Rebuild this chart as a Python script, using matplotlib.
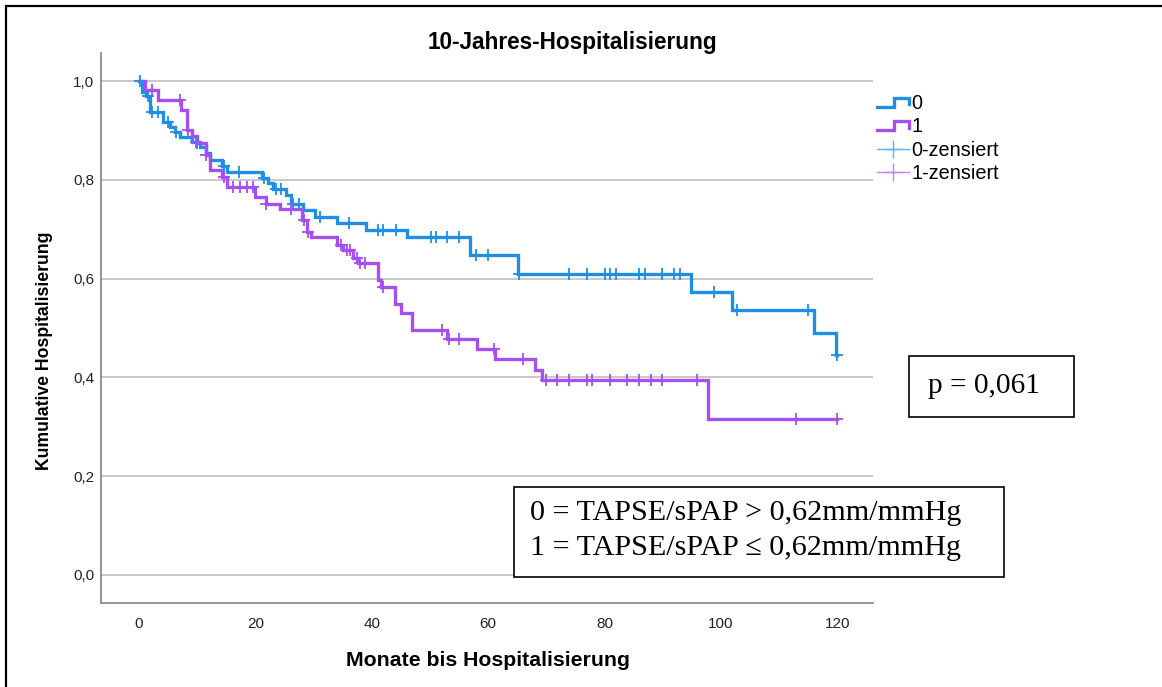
import numpy as np
import matplotlib
matplotlib.use('Agg')
import matplotlib.pyplot as plt
from matplotlib.lines import Line2D
from matplotlib.patches import Rectangle
from matplotlib.legend_handler import HandlerBase

plt.rcParams['font.family'] = ['Liberation Sans', 'DejaVu Sans']

# Group 0 (TAPSE/sPAP > 0,62): event times (months) and survival after each step
t0 = [0, 0.5, 1.3, 2.0, 4.1, 5.3, 6.2, 7.0, 9.1, 10.5, 11.5, 12.2, 14.2, 15.1,
      21.2, 22.2, 23.1, 25.3, 26.2, 28.2, 30.2, 34.1, 39.1, 46.0, 56.9, 65.1,
      94.8, 101.8, 115.9, 119.8]
s0 = [1.0, 0.978, 0.970, 0.938, 0.918, 0.908, 0.897, 0.886, 0.877, 0.866, 0.854,
      0.840, 0.828, 0.815, 0.803, 0.793, 0.781, 0.769, 0.752, 0.739, 0.725, 0.713,
      0.698, 0.684, 0.648, 0.609, 0.573, 0.536, 0.490, 0.445]
cens0 = [0.2, 1.5, 2.2, 3.3, 5.0, 6.3, 9.9, 14.6, 17.2, 21.5, 23.6, 24.5, 26.5,
         27.5, 31.1, 36.1, 41.1, 42.0, 44.1, 50.2, 51.0, 53.0, 55.0, 57.9, 59.9,
         65.3, 73.9, 76.9, 80.0, 80.9, 82.0, 85.9, 86.9, 89.9, 91.9, 92.9, 98.8,
         102.8, 114.9, 120.0]

# Group 1 (TAPSE/sPAP <= 0,62)
t1 = [0, 1.0, 3.3, 7.3, 8.3, 9.1, 10.0, 11.5, 12.2, 14.2, 15.1, 19.9, 21.8, 24.2,
      28.0, 28.8, 29.5, 34.1, 35.0, 36.8, 37.6, 41.0, 41.6, 44.0, 45.0, 47.0,
      52.9, 58.0, 61.2, 68.0, 69.2, 97.8]
s1 = [1.0, 0.982, 0.962, 0.941, 0.901, 0.889, 0.874, 0.850, 0.820, 0.806, 0.786,
      0.766, 0.752, 0.742, 0.719, 0.695, 0.684, 0.668, 0.658, 0.641, 0.631, 0.597,
      0.584, 0.549, 0.531, 0.496, 0.478, 0.457, 0.437, 0.415, 0.395, 0.316]
cens1 = [2.2, 7.0, 8.5, 10.0, 11.6, 14.6, 16.2, 17.4, 18.5, 19.6, 21.9, 26.2, 28.3,
         29.1, 34.8, 35.7, 36.2, 37.4, 38.0, 38.8, 42.0, 52.0, 53.3, 55.0, 61.0,
         66.0, 69.9, 71.8, 73.9, 76.9, 77.9, 80.9, 83.9, 85.9, 87.9, 89.9, 95.8,
         112.8, 120.0]

end_time = 120
xticks = [0, 20, 40, 60, 80, 100, 120]
yticks = [0.0, 0.2, 0.4, 0.6, 0.8, 1.0]
legend_labels = ['0', '1', '0-zensiert', '1-zensiert']

blue = '#1f8fe6'
purple = '#a64ff0'
blue_light = '#5cb2ee'
purple_light = '#c184f5'


def value_at(t, s, c):
    idx = np.searchsorted(t, c, side='right') - 1
    return np.asarray(s)[idx]


class StepHandler(HandlerBase):
    # little step glyph like the SPSS legend
    def create_artists(self, legend, orig_handle, xdescent, ydescent,
                       width, height, fontsize, trans):
        x = np.array([0, 0.55, 0.55, 1, 1]) * width - xdescent
        y = np.array([0.15, 0.15, 0.8, 0.8, 0.35]) * height - ydescent
        ln = Line2D(x, y, color=orig_handle.get_color(),
                    lw=orig_handle.get_linewidth(), transform=trans,
                    solid_joinstyle='miter')
        return [ln]


fig = plt.figure(figsize=(11.62, 6.87), dpi=100)
ax = fig.add_axes([101 / 1162, 1 - 603 / 687, 772 / 1162, 550 / 687])

lines = []
for t, s, c, col in [(t0, s0, cens0, blue), (t1, s1, cens1, purple)]:
    tt = list(t) + [end_time]
    ss = list(s) + [s[-1]]
    ln, = ax.step(tt, ss, where='post', color=col, lw=2.4,
                  solid_joinstyle='miter', zorder=3)
    ax.plot(c, value_at(t, s, c), ls='none', marker='+', ms=8, mew=1.3,
            color=col, zorder=4)
    lines.append(ln)

ax.set_xlim(-6.5, 126.1)
ax.set_ylim(-0.057, 1.057)
ax.set_xticks(xticks)
ax.set_yticks(yticks)
ax.set_yticklabels([f'{v:.1f}'.replace('.', ',') for v in yticks])
ax.tick_params(length=0, labelsize=11, colors='#222222')
ax.tick_params(axis='x', pad=10)
ax.tick_params(axis='y', pad=5)
ax.yaxis.grid(True, color='#c8c8c8', lw=1.4)
ax.set_axisbelow(True)
for side in ['top', 'right']:
    ax.spines[side].set_visible(False)
for side in ['left', 'bottom']:
    ax.spines[side].set_color('#8c8c8c')
    ax.spines[side].set_linewidth(1.3)

# legend
h_cens0 = Line2D([], [], color=blue_light, lw=1.0, marker='+', ms=13, mew=1.0)
h_cens1 = Line2D([], [], color=purple_light, lw=1.0, marker='+', ms=13, mew=1.0)
fig.legend([lines[0], lines[1], h_cens0, h_cens1], legend_labels,
           handler_map={lines[0]: StepHandler(), lines[1]: StepHandler()},
           loc='upper left', bbox_to_anchor=(877 / 1162, 1 - 94 / 687),
           frameon=False, fontsize=14.3, handlelength=1.6, handletextpad=0.12,
           labelspacing=0.22, borderpad=0, borderaxespad=0)

# titles and labels
fig.text(572 / 1162, 1 - 42 / 687, '10-Jahres-Hospitalisierung',
         ha='center', va='center', fontsize=16.3, fontweight='bold')
fig.text(488 / 1162, 1 - 660 / 687, 'Monate bis Hospitalisierung',
         ha='center', va='center', fontsize=15.3, fontweight='bold')
fig.text(45 / 1162, 1 - 351 / 687, 'Kumulative Hospitalisierung',
         ha='center', va='center', rotation=90, fontsize=12.7, fontweight='bold')

# annotation boxes
serif = ['Liberation Serif', 'DejaVu Serif']
fig.add_artist(Rectangle((909 / 1162, 1 - 417 / 687), 165 / 1162, 61 / 687,
                         transform=fig.transFigure, facecolor='white',
                         edgecolor='black', lw=1.2, zorder=5))
fig.text(928 / 1162, 1 - 386 / 687, 'p = 0,061', family=serif, fontsize=21.2,
         ha='left', va='center', zorder=6)
fig.add_artist(Rectangle((514 / 1162, 1 - 577 / 687), 490 / 1162, 90 / 687,
                         transform=fig.transFigure, facecolor='white',
                         edgecolor='black', lw=1.2, zorder=5))
fig.text(530 / 1162, 1 - 513 / 687, '0 = TAPSE/sPAP > 0,62mm/mmHg', family=serif,
         fontsize=21.7, ha='left', va='center', zorder=6)
fig.text(530 / 1162, 1 - 548 / 687, '1 = TAPSE/sPAP \u2264 0,62mm/mmHg', family=serif,
         fontsize=21.7, ha='left', va='center', zorder=6)

# outer frame of the exported chart
fig.add_artist(Rectangle((6 / 1162, -0.1), 1.2, 1.1 - 6 / 687,
                         transform=fig.transFigure, fill=False,
                         edgecolor='black', lw=1.6, zorder=7))

fig.savefig('out.png', dpi=100)
